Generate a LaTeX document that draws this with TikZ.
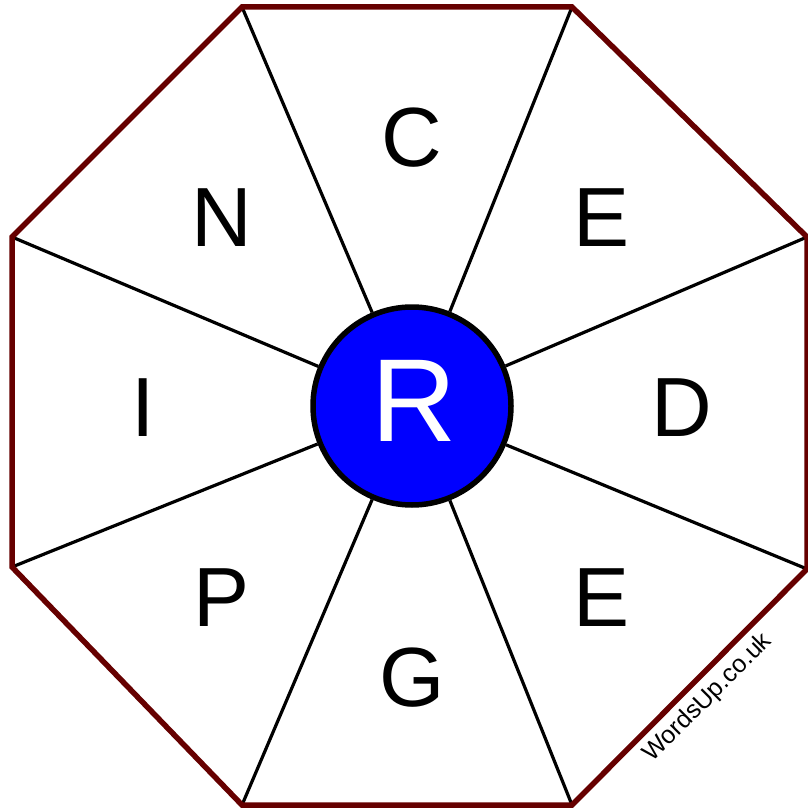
\documentclass[tikz,border=0pt]{standalone}
\usepackage{fontspec}
\setmainfont{Liberation Sans}
\usepackage{tikz}
\usetikzlibrary{positioning,calc}
\definecolor{rimred}{RGB}{102,0,0}
\definecolor{hubblue}{RGB}{0,0,255}

\begin{document}
\begin{tikzpicture}[
x=1pt, y=-1pt,
rim/.style={draw=rimred, line width=5.5pt, line join=miter},
spoke/.style={draw=black, line width=3.2pt},
hub/.style={circle, draw=black, line width=5.5pt, fill=hubblue, minimum size=198pt, inner sep=0pt},
letter/.style={inner sep=0pt, font=\fontsize{84}{84}\selectfont},
sitemark/.style={inner sep=0pt, font=\fontsize{25}{25}\selectfont}
]
\useasboundingbox (0,0) rectangle (807,810);
% octagon corners
\coordinate (v1) at (242,7);
\coordinate (v2) at (572,7);
\coordinate (v3) at (807,237);
\coordinate (v4) at (807,569);
\coordinate (v5) at (572,805);
\coordinate (v6) at (242,805);
\coordinate (v7) at (12,567);
\coordinate (v8) at (12,237);
\node[hub] (centre) at (412,406) {};
\foreach \v in {v1,v2,v3,v4,v5,v6,v7,v8}
  \draw[spoke] (centre) -- (\v);
\draw[rim] (v1) -- (v2) -- (v3) -- (v4) -- (v5) -- (v6) -- (v7) -- (v8) -- cycle;
\node[inner sep=0pt, text=white, font=\fontsize{118}{118}\selectfont] (rletter) at (414,401) {R};
% outer letters
\node[letter] (lc) at (412,138) {C};
\node[letter] (le1) at (602,218) {E};
\node[letter] (ld) at (682,408) {D};
\node[letter] (le2) at (602,598) {E};
\node[letter] (lg) at (412,678) {G};
\node[letter] (lp) at (222,598) {P};
\node[letter] (li) at (143,408) {I};
\node[letter] (ln) at (222,218) {N};
\node[sitemark, rotate=45] (site) at (708,698) {WordsUp.co.uk};
\end{tikzpicture}
\end{document}
